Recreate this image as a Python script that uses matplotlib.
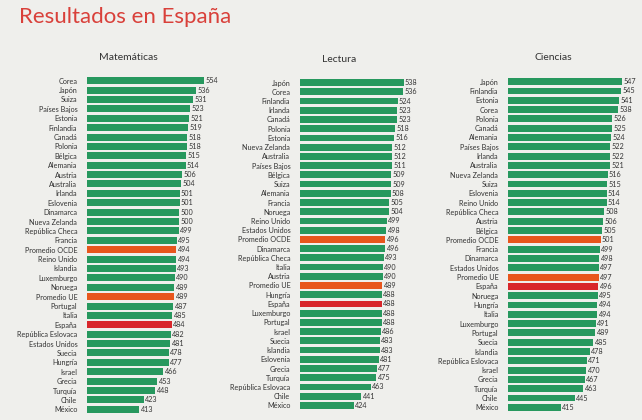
import matplotlib
matplotlib.use('Agg')
import matplotlib.pyplot as plt

plt.rcParams['font.family'] = ['Lato', 'DejaVu Sans']

mat_paises = ['Corea', 'Japón', 'Suiza', 'Países Bajos', 'Estonia', 'Finlandia', 'Canadá',
              'Polonia', 'Bélgica', 'Alemania', 'Austria', 'Australia', 'Irlanda', 'Eslovenia',
              'Dinamarca', 'Nueva Zelanda', 'República Checa', 'Francia', 'Promedio OCDE',
              'Reino Unido', 'Islandia', 'Luxemburgo', 'Noruega', 'Promedio UE', 'Portugal',
              'Italia', 'España', 'República Eslovaca', 'Estados Unidos', 'Suecia', 'Hungría',
              'Israel', 'Grecia', 'Turquía', 'Chile', 'México']
mat_valores = [554, 536, 531, 523, 521, 519, 518, 518, 515, 514, 506, 504, 501, 501, 500, 500,
               499, 495, 494, 494, 493, 490, 489, 489, 487, 485, 484, 482, 481, 478, 477, 466,
               453, 448, 423, 413]

lec_paises = ['Japón', 'Corea', 'Finlandia', 'Irlanda', 'Canadá', 'Polonia', 'Estonia',
              'Nueva Zelanda', 'Australia', 'Países Bajos', 'Bélgica', 'Suiza', 'Alemania',
              'Francia', 'Noruega', 'Reino Unido', 'Estados Unidos', 'Promedio OCDE', 'Dinamarca',
              'República Checa', 'Italia', 'Austria', 'Promedio UE', 'Hungría', 'España',
              'Luxemburgo', 'Portugal', 'Israel', 'Suecia', 'Islandia', 'Eslovenia', 'Grecia',
              'Turquía', 'República Eslovaca', 'Chile', 'México']
lec_valores = [538, 536, 524, 523, 523, 518, 516, 512, 512, 511, 509, 509, 508, 505, 504, 499,
               498, 496, 496, 493, 490, 490, 489, 488, 488, 488, 488, 486, 483, 483, 481, 477,
               475, 463, 441, 424]

cie_paises = ['Japón', 'Finlandia', 'Estonia', 'Corea', 'Polonia', 'Canadá', 'Alemania',
              'Países Bajos', 'Irlanda', 'Australia', 'Nueva Zelanda', 'Suiza', 'Eslovenia',
              'Reino Unido', 'República Checa', 'Austria', 'Bélgica', 'Promedio OCDE', 'Francia',
              'Dinamarca', 'Estados Unidos', 'Promedio UE', 'España', 'Noruega', 'Hungría',
              'Italia', 'Luxemburgo', 'Portugal', 'Suecia', 'Islandia', 'República Eslovaca',
              'Israel', 'Grecia', 'Turquía', 'Chile', 'México']
cie_valores = [547, 545, 541, 538, 526, 525, 524, 522, 522, 521, 516, 515, 514, 514, 508, 506,
               505, 501, 499, 498, 497, 497, 496, 495, 494, 494, 491, 489, 485, 478, 471, 470,
               467, 463, 445, 415]

verde = '#27985e'
naranja = '#e8561c'
rojo = '#d8262b'
fondo = '#efefec'

W, H = 642, 420
fig = plt.figure(figsize=(W / 100, H / 100), dpi=100, facecolor=fondo)

fig.text(19 / W, 1 - 17 / H, 'Resultados en España', color='#d9403a', fontsize=16,
         ha='left', va='center')

# (titulo, paises, valores, izquierda px, ancho px, arriba px, abajo px, titulo x, titulo y)
paneles = [
    ('Matemáticas', mat_paises, mat_valores, 87, 129, 76, 414, 128, 57),
    ('Lectura', lec_paises, lec_valores, 300, 122, 78, 410, 339, 59),
    ('Ciencias', cie_paises, cie_valores, 508, 129, 77, 412, 553, 58),
]

for titulo, paises, valores, x0, ancho, top, bot, tx, ty in paneles:
    ax = fig.add_axes([x0 / W, 1 - bot / H, ancho / W, (bot - top) / H])
    ax.set_facecolor('none')
    colores = []
    for p in paises:
        if p == 'España':
            colores.append(rojo)
        elif p.startswith('Promedio'):
            colores.append(naranja)
        else:
            colores.append(verde)
    y = list(range(len(paises)))
    ax.barh(y, [v - 300 for v in valores], left=300, height=0.74, color=colores)
    for yi, v in zip(y, valores):
        ax.text(v + 3, yi, str(v), fontsize=5.2, color='#333333', va='center', ha='left')
    ax.set_xlim(300, 580)
    ax.set_ylim(len(paises) - 0.5, -0.5)
    ax.set_yticks(y)
    ax.set_yticklabels(paises, fontsize=5.2, color='#333333')
    ax.tick_params(axis='y', length=0, pad=7)
    ax.set_xticks([])
    for s in ax.spines.values():
        s.set_visible(False)
    fig.text(tx / W, 1 - ty / H, titulo, fontsize=7.5, color='#333333', ha='center', va='center')

fig.savefig('out.png', dpi=100, facecolor=fondo)
